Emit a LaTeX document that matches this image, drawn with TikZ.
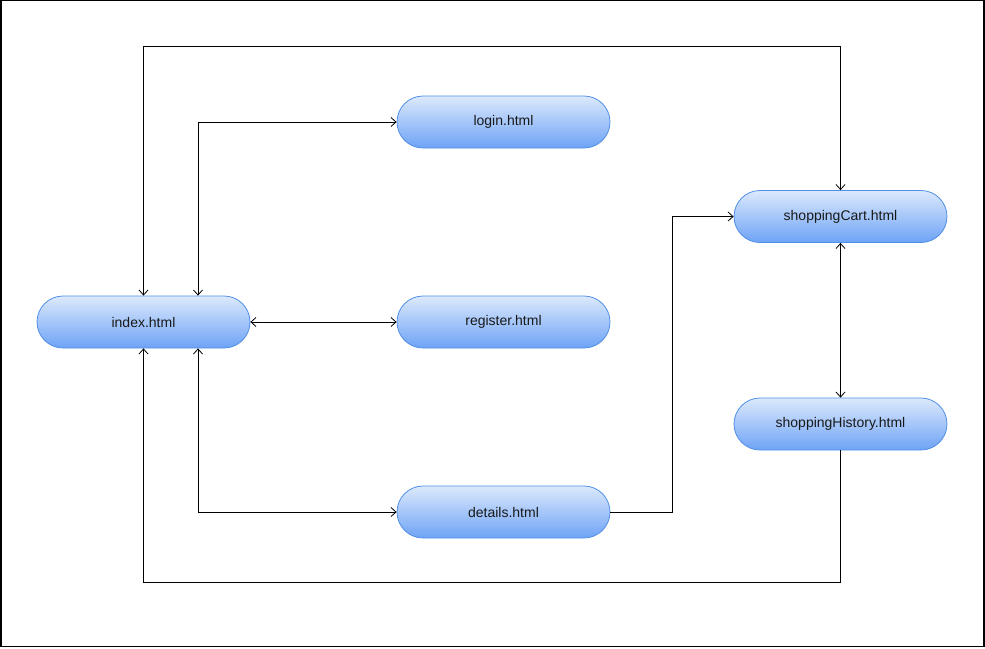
\documentclass[tikz,border=0pt]{standalone}
\usepackage{fontspec}
\setmainfont{Liberation Sans}
\usetikzlibrary{arrows.meta}
\definecolor{pagetop}{HTML}{DCE9FC}
\definecolor{pagebot}{HTML}{6EA3F6}
\definecolor{pageedge}{HTML}{4F8FE6}
\begin{document}
\begin{tikzpicture}[x=1pt,y=-1pt,
  page/.style={draw=pageedge, line width=0.8pt, top color=pagetop, bottom color=pagebot,
    rounded corners=26pt, minimum width=213pt, minimum height=52pt, inner sep=0pt,
    font=\fontsize{14}{16}\selectfont, text=black!90},
  barb/.tip={Straight Barb[length=5pt,width=9pt,line width=0.8pt]},
  both/.style={draw=black, line width=0.9pt, barb-barb},
  oneway/.style={draw=black, line width=0.9pt, -barb}]
\useasboundingbox (0,0) rectangle (985,648);
\draw[line width=1.2pt] (1,0.6) rectangle (984,646.4);

% pages
\node[page] (index)   at (143.5,322) {index.html};
\node[page] (login)   at (503.5,122) {login.html};
\node[page] (register) at (503.5,322) {register.html};
\node[page] (details) at (503.5,512) {details.html};
\node[page] (cart)    at (840.5,216.5) {shoppingCart.html};
\node[page] (hist)    at (840.5,424) {shoppingHistory.html};

% routing helpers
\coordinate (topy) at (0,46);
\coordinate (boty) at (0,582);
\coordinate (lx)   at (198,0);
\coordinate (jx)   at (672,0);

% links
\draw[both] (index.north) -- (index.north |- topy) -| (cart.north);
\draw[both] (index.north -| lx) |- (login.west);
\draw[both] (index.east) -- (register.west);
\draw[both] (index.south -| lx) |- (details.west);
\draw[oneway] (hist.south) -- (hist.south |- boty) -| (index.south);
\draw[oneway] (details.east) -- (details.east -| jx) |- (cart.west);
\draw[both] (cart.south) -- (hist.north);
\end{tikzpicture}
\end{document}
